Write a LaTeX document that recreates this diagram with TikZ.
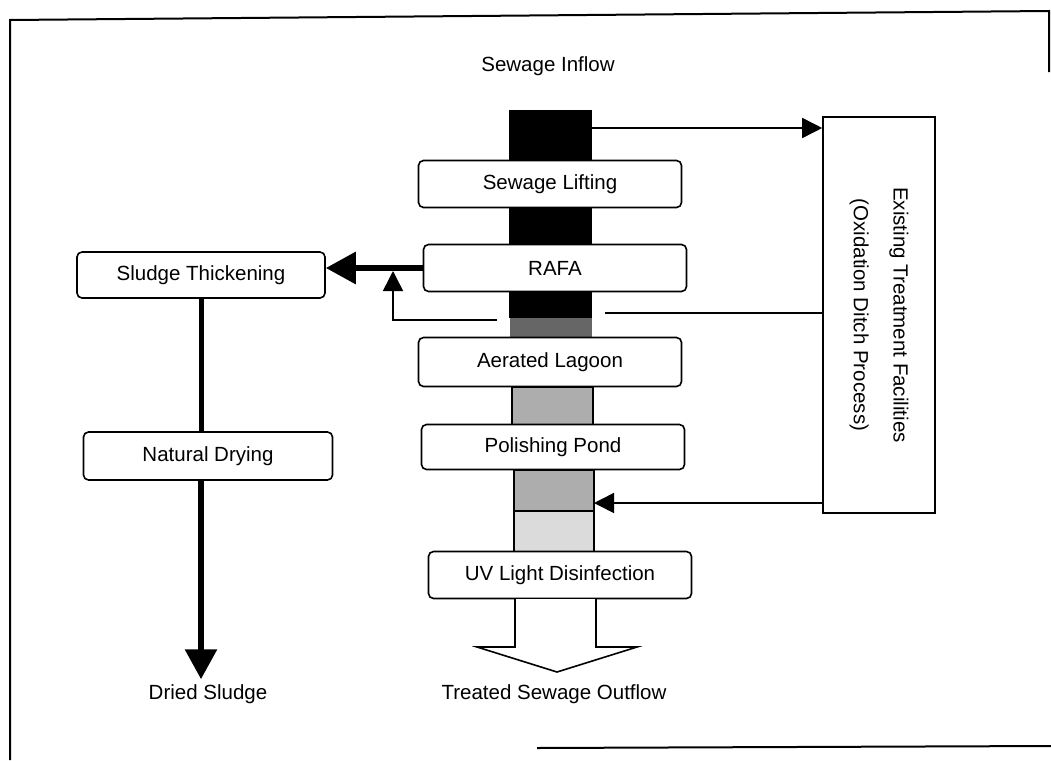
\documentclass[tikz,border=0pt]{standalone}
\usepackage{fontspec}
\setmainfont{Liberation Sans}
\usetikzlibrary{arrows.meta,backgrounds}

\begin{document}
\begin{tikzpicture}[x=1pt, y=-1pt,
  box/.style={draw, line width=1.6pt, rounded corners=5pt, fill=white,
    minimum width=263pt, minimum height=47pt, align=center, inner sep=0pt},
  lab/.style={inner sep=5pt},
  feed/.style={line width=1.6pt, -{Triangle[length=20pt,width=20pt]}},
  sludge/.style={line width=6pt, -{Triangle[length=30pt,width=31pt]}},
  font=\fontsize{20.5}{24.6}\selectfont]
  \useasboundingbox (0,0) rectangle (1051,760);
  % frame
  \draw[line width=2pt] (10,760) -- (10,20) -- (1049,11) -- (1049,72);
  \draw[line width=2pt] (537,748) -- (1051,746);

  \node[lab] (inflow) at (548,66) {Sewage Inflow};
  \node[box] (lift) at (550,184) {Sewage Lifting};
  \node[box] (rafa) at (555,268) {RAFA};
  \node[box, minimum height=49pt] (aer) at (550,362) {Aerated Lagoon};
  \node[box, minimum height=45pt] (pol) at (553,447) {Polishing Pond};
  \node[box] (uv) at (560,575) {UV Light Disinfection};
  \node[box, minimum width=248pt, minimum height=46pt] (thick) at (201,275) {Sludge Thickening};
  \node[box, minimum width=249pt, minimum height=48pt] (dry) at (208,456) {Natural Drying};
  \node[draw, line width=1.6pt, minimum width=112pt, minimum height=396pt] (exist) at (879,315) {};
  \node[rotate=-90, align=center] (existText) at (exist.center)
    {Existing Treatment Facilities\\[15pt](Oxidation Ditch Process)};
  \node[lab] (dried) at (208,694) {Dried Sludge};
  \node[lab] (treated) at (554,694) {Treated Sewage Outflow};

  % taps on the main line
  \coordinate (inTap) at (592,128);
  \coordinate (outTap) at (605,313);
  \coordinate (backTap) at (594,503);
  \coordinate (sludgeTap) at (497,320);
  \coordinate (sludgeJoin) at (393,271);

  \draw[feed] (inTap) -- (inTap -| exist.west);
  \draw[line width=1.6pt] (outTap) -- (outTap -| exist.west);
  \draw[feed] (backTap -| exist.west) -- (backTap);
  \draw[feed] (sludgeTap) -| (sludgeJoin);
  \draw[sludge] (rafa.west) -- (rafa.west -| thick.east);
  \draw[line width=5pt] (thick.south) -- (thick.south |- dry.north);
  \draw[sludge] (thick.south |- dry.south) -- (thick.south |- dried.north);

  % outflow
  \draw[line width=1.6pt, fill=white] (515,599) -- (515,647) -- (477,647) -- (557,672)
    -- (637,647) -- (596,647) -- (596,599);

  \begin{scope}[on background layer]
    \fill[black] (509,110) rectangle (592,318);
    \fill[black!60] (510,318) rectangle (592,338);
    \filldraw[fill=black!32, line width=1.5pt] (512,387) rectangle (593,425);
    \filldraw[fill=black!32, line width=1.5pt] (514,470) rectangle (594,511);
    \filldraw[fill=black!14, line width=1.5pt] (514,511) rectangle (594,552);
  \end{scope}
\end{tikzpicture}
\end{document}
